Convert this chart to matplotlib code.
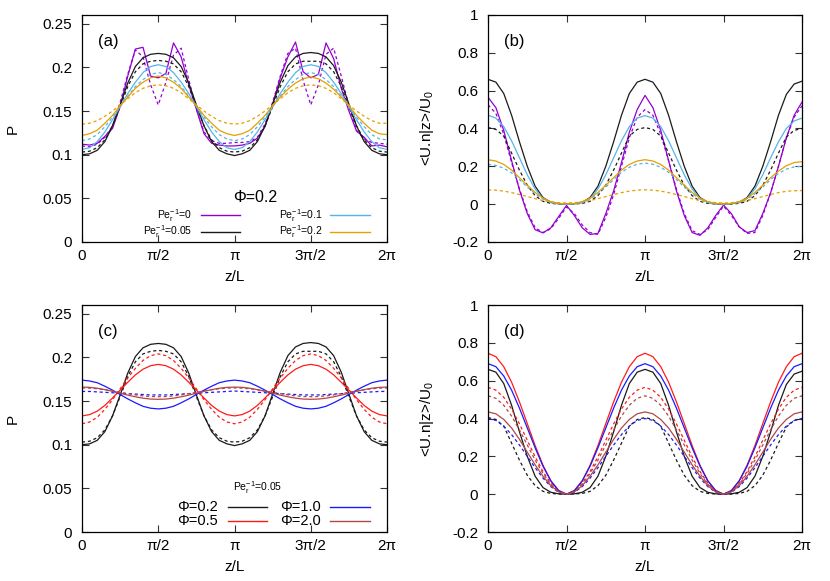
import numpy as np
import matplotlib
matplotlib.use('Agg')
import matplotlib.pyplot as plt

plt.rcParams['font.family'] = ['Liberation Sans', 'DejaVu Sans']
plt.rcParams['mathtext.fontset'] = 'custom'
plt.rcParams['mathtext.rm'] = 'Liberation Sans'
plt.rcParams['mathtext.it'] = 'Liberation Sans:italic'

# z/L sampled every pi/20
z = np.linspace(0, 2*np.pi, 41)

# ---- panel (a): P(z), Phi=0.2, several Pe_r^-1 (solid / dashed)
a_pe0 = [0.112, 0.111, 0.113, 0.121, 0.130, 0.155, 0.190, 0.221, 0.223, 0.190, 0.188,
         0.193, 0.228, 0.212, 0.180, 0.152, 0.124, 0.113, 0.111, 0.110, 0.110,
         0.111, 0.113, 0.119, 0.132, 0.158, 0.188, 0.212, 0.229, 0.195, 0.188,
         0.192, 0.228, 0.210, 0.176, 0.150, 0.127, 0.120, 0.110, 0.111, 0.109]
a_pe0_d = [0.110, 0.109, 0.112, 0.120, 0.133, 0.160, 0.192, 0.220, 0.212, 0.180, 0.157,
           0.183, 0.214, 0.222, 0.186, 0.152, 0.126, 0.116, 0.113, 0.113, 0.114,
           0.114, 0.115, 0.120, 0.135, 0.160, 0.190, 0.216, 0.222, 0.185, 0.157,
           0.180, 0.215, 0.222, 0.190, 0.156, 0.128, 0.118, 0.114, 0.113, 0.112]
a_pe005 = [0.100, 0.101, 0.105, 0.115, 0.133, 0.157, 0.182, 0.201, 0.211, 0.215, 0.216,
           0.215, 0.211, 0.201, 0.182, 0.157, 0.133, 0.115, 0.105, 0.101, 0.099,
           0.101, 0.105, 0.115, 0.133, 0.158, 0.183, 0.202, 0.212, 0.216, 0.217,
           0.216, 0.212, 0.202, 0.183, 0.158, 0.133, 0.115, 0.105, 0.101, 0.100]
a_pe005_d = [0.103, 0.104, 0.108, 0.117, 0.133, 0.155, 0.178, 0.195, 0.204, 0.207, 0.208,
             0.207, 0.204, 0.195, 0.178, 0.155, 0.133, 0.117, 0.108, 0.104, 0.103,
             0.104, 0.108, 0.117, 0.133, 0.155, 0.178, 0.195, 0.204, 0.207, 0.207,
             0.207, 0.204, 0.195, 0.178, 0.155, 0.133, 0.117, 0.108, 0.104, 0.103]
a_pe01 = [0.106, 0.108, 0.115, 0.126, 0.140, 0.155, 0.170, 0.183, 0.194, 0.201, 0.203,
          0.201, 0.194, 0.183, 0.170, 0.155, 0.140, 0.126, 0.115, 0.108, 0.106,
          0.108, 0.115, 0.126, 0.140, 0.155, 0.170, 0.183, 0.194, 0.201, 0.203,
          0.201, 0.194, 0.183, 0.170, 0.155, 0.140, 0.126, 0.115, 0.108, 0.106]
a_pe01_d = [0.116, 0.118, 0.123, 0.132, 0.143, 0.155, 0.167, 0.178, 0.186, 0.192, 0.194,
            0.192, 0.186, 0.178, 0.167, 0.155, 0.143, 0.132, 0.123, 0.118, 0.116,
            0.118, 0.123, 0.132, 0.143, 0.155, 0.167, 0.178, 0.186, 0.192, 0.194,
            0.192, 0.186, 0.178, 0.167, 0.155, 0.143, 0.132, 0.123, 0.118, 0.117]
a_pe02 = [0.122, 0.124, 0.128, 0.136, 0.145, 0.156, 0.166, 0.176, 0.183, 0.188, 0.190,
          0.188, 0.183, 0.176, 0.166, 0.156, 0.145, 0.136, 0.128, 0.124, 0.122,
          0.124, 0.128, 0.136, 0.145, 0.156, 0.166, 0.175, 0.182, 0.187, 0.189,
          0.187, 0.182, 0.175, 0.166, 0.156, 0.145, 0.136, 0.128, 0.124, 0.123]
a_pe02_d = [0.135, 0.136, 0.139, 0.144, 0.150, 0.157, 0.164, 0.171, 0.176, 0.179, 0.180,
            0.179, 0.176, 0.171, 0.164, 0.157, 0.150, 0.144, 0.139, 0.136, 0.135,
            0.136, 0.139, 0.144, 0.150, 0.157, 0.164, 0.171, 0.176, 0.179, 0.180,
            0.179, 0.176, 0.171, 0.164, 0.157, 0.150, 0.144, 0.139, 0.136, 0.136]

# ---- panel (b): <U.n|z>/U0, Phi=0.2
b_pe0 = [0.565, 0.51, 0.39, 0.23, 0.075, -0.05, -0.135, -0.152, -0.125, -0.065, -0.007,
         -0.06, -0.125, -0.16, -0.155, -0.05, 0.07, 0.22, 0.38, 0.50, 0.575,
         0.51, 0.39, 0.23, 0.07, -0.06, -0.15, -0.165, -0.125, -0.06, -0.005,
         -0.05, -0.12, -0.15, -0.14, -0.05, 0.06, 0.20, 0.35, 0.47, 0.54]
b_pe0_d = [0.525, 0.48, 0.37, 0.22, 0.08, -0.04, -0.125, -0.15, -0.13, -0.075, -0.015,
           -0.05, -0.11, -0.15, -0.16, -0.07, 0.05, 0.20, 0.35, 0.46, 0.50,
           0.47, 0.37, 0.23, 0.08, -0.05, -0.14, -0.16, -0.135, -0.07, -0.01,
           -0.06, -0.12, -0.155, -0.15, -0.06, 0.06, 0.20, 0.35, 0.46, 0.52]
b_pe005 = [0.66, 0.645, 0.585, 0.47, 0.33, 0.20, 0.095, 0.035, 0.01, 0.002, 0.0,
           0.002, 0.01, 0.035, 0.095, 0.20, 0.33, 0.47, 0.585, 0.645, 0.66,
           0.645, 0.585, 0.47, 0.33, 0.20, 0.095, 0.035, 0.01, 0.002, 0.0,
           0.002, 0.01, 0.035, 0.095, 0.20, 0.33, 0.47, 0.58, 0.635, 0.65]
b_pe005_d = [0.405, 0.395, 0.36, 0.27, 0.18, 0.10, 0.045, 0.015, 0.004, 0.001, 0.0,
             0.001, 0.004, 0.015, 0.045, 0.10, 0.18, 0.27, 0.36, 0.395, 0.405,
             0.395, 0.36, 0.27, 0.18, 0.10, 0.045, 0.015, 0.004, 0.001, 0.0,
             0.001, 0.004, 0.015, 0.045, 0.10, 0.18, 0.27, 0.355, 0.39, 0.40]
b_pe01 = [0.47, 0.455, 0.41, 0.335, 0.245, 0.155, 0.08, 0.03, 0.008, 0.002, 0.0,
          0.002, 0.008, 0.03, 0.08, 0.155, 0.245, 0.335, 0.41, 0.455, 0.468,
          0.455, 0.41, 0.335, 0.245, 0.155, 0.08, 0.03, 0.008, 0.002, 0.0,
          0.002, 0.008, 0.03, 0.08, 0.155, 0.245, 0.33, 0.40, 0.44, 0.455]
b_pe01_d = [0.21, 0.205, 0.19, 0.165, 0.13, 0.09, 0.055, 0.027, 0.01, 0.003, 0.0,
            0.003, 0.01, 0.027, 0.055, 0.09, 0.13, 0.168, 0.195, 0.211, 0.217,
            0.211, 0.195, 0.168, 0.13, 0.09, 0.055, 0.027, 0.01, 0.003, 0.0,
            0.003, 0.01, 0.027, 0.055, 0.09, 0.13, 0.162, 0.185, 0.197, 0.20]
b_pe02 = [0.235, 0.228, 0.21, 0.18, 0.14, 0.10, 0.062, 0.032, 0.013, 0.004, 0.001,
          0.004, 0.013, 0.032, 0.062, 0.10, 0.14, 0.18, 0.21, 0.228, 0.235,
          0.228, 0.21, 0.18, 0.14, 0.10, 0.062, 0.032, 0.013, 0.004, 0.001,
          0.004, 0.013, 0.032, 0.062, 0.10, 0.14, 0.175, 0.203, 0.22, 0.225]
b_pe02_d = [0.075, 0.074, 0.069, 0.061, 0.051, 0.04, 0.029, 0.019, 0.012, 0.008, 0.006,
            0.008, 0.012, 0.019, 0.029, 0.04, 0.051, 0.061, 0.069, 0.074, 0.076,
            0.074, 0.069, 0.061, 0.051, 0.04, 0.029, 0.019, 0.012, 0.008, 0.006,
            0.008, 0.012, 0.019, 0.029, 0.04, 0.051, 0.061, 0.068, 0.071, 0.072]

# ---- panel (c): P(z), Pe_r^-1=0.05, several Phi (Phi=0.2 is a_pe005)
c_phi05 = [0.133, 0.1345, 0.1385, 0.145, 0.1535, 0.1625, 0.1715, 0.180, 0.1865, 0.1905, 0.192,
           0.1905, 0.1865, 0.180, 0.1715, 0.1625, 0.1535, 0.145, 0.1385, 0.1345, 0.133,
           0.1345, 0.1385, 0.145, 0.1535, 0.1625, 0.1715, 0.180, 0.1865, 0.1905, 0.192,
           0.1905, 0.1865, 0.180, 0.1715, 0.1625, 0.1535, 0.145, 0.1385, 0.1345, 0.133]
c_phi05_d = [0.124, 0.126, 0.1315, 0.1405, 0.1515, 0.164, 0.1765, 0.1875, 0.1965, 0.202, 0.204,
             0.202, 0.1965, 0.1875, 0.1765, 0.164, 0.1515, 0.1405, 0.1315, 0.126, 0.124,
             0.126, 0.1315, 0.1405, 0.1515, 0.164, 0.1765, 0.1875, 0.1965, 0.202, 0.204,
             0.202, 0.1965, 0.1875, 0.1765, 0.164, 0.1515, 0.1405, 0.1315, 0.126, 0.124]
c_phi10 = [0.174, 0.173, 0.171, 0.167, 0.1625, 0.1575, 0.1525, 0.148, 0.144, 0.1418, 0.141,
           0.1418, 0.144, 0.148, 0.1525, 0.1575, 0.1625, 0.167, 0.171, 0.173, 0.174,
           0.173, 0.171, 0.167, 0.1625, 0.1575, 0.1525, 0.148, 0.144, 0.1418, 0.141,
           0.1418, 0.144, 0.148, 0.1525, 0.1575, 0.1625, 0.167, 0.171, 0.173, 0.174]
c_phi10_d = [0.161, 0.161, 0.1605, 0.160, 0.1595, 0.159, 0.1585, 0.158, 0.1575, 0.157, 0.157,
             0.157, 0.1575, 0.158, 0.1585, 0.159, 0.1595, 0.160, 0.1605, 0.161, 0.1615,
             0.161, 0.1605, 0.160, 0.1595, 0.159, 0.1585, 0.158, 0.1575, 0.157, 0.157,
             0.157, 0.1575, 0.158, 0.1585, 0.159, 0.1595, 0.160, 0.1605, 0.161, 0.161]
c_phi20 = [0.166, 0.1657, 0.1647, 0.1631, 0.1612, 0.159, 0.1568, 0.1549, 0.1533, 0.1523, 0.152,
           0.1523, 0.1533, 0.1549, 0.1568, 0.159, 0.1612, 0.1631, 0.1647, 0.1657, 0.166,
           0.1657, 0.1647, 0.1631, 0.1612, 0.159, 0.1568, 0.1549, 0.1533, 0.1523, 0.152,
           0.1523, 0.1533, 0.1549, 0.1568, 0.159, 0.1612, 0.1631, 0.1647, 0.1657, 0.166]
c_phi20_d = [0.165, 0.1648, 0.1641, 0.1629, 0.1615, 0.160, 0.1585, 0.1571, 0.1559, 0.1552, 0.155,
             0.1552, 0.1559, 0.1571, 0.1585, 0.160, 0.1615, 0.1629, 0.1641, 0.1648, 0.165,
             0.1648, 0.1641, 0.1629, 0.1615, 0.160, 0.1585, 0.1571, 0.1559, 0.1552, 0.155,
             0.1552, 0.1559, 0.1571, 0.1585, 0.160, 0.1615, 0.1629, 0.1641, 0.1648, 0.165]

# ---- panel (d): <U.n|z>/U0, Pe_r^-1=0.05 (Phi=0.2 is b_pe005)
d_phi05 = [0.745, 0.727, 0.674, 0.592, 0.488, 0.373, 0.257, 0.153, 0.071, 0.02, 0.0,
           0.02, 0.071, 0.153, 0.257, 0.373, 0.488, 0.592, 0.674, 0.727, 0.745,
           0.727, 0.674, 0.592, 0.488, 0.373, 0.257, 0.153, 0.071, 0.02, 0.0,
           0.02, 0.071, 0.153, 0.257, 0.373, 0.488, 0.592, 0.674, 0.727, 0.745]
d_phi05_d = [0.565, 0.55, 0.512, 0.45, 0.372, 0.285, 0.198, 0.12, 0.057, 0.015, 0.0,
             0.015, 0.057, 0.12, 0.198, 0.285, 0.372, 0.45, 0.512, 0.55, 0.565,
             0.55, 0.512, 0.45, 0.372, 0.285, 0.198, 0.12, 0.057, 0.015, 0.0,
             0.015, 0.057, 0.12, 0.198, 0.285, 0.372, 0.45, 0.512, 0.55, 0.565]
d_phi10 = [0.69, 0.674, 0.625, 0.55, 0.455, 0.35, 0.245, 0.148, 0.07, 0.018, 0.0,
           0.018, 0.07, 0.148, 0.245, 0.35, 0.455, 0.55, 0.625, 0.674, 0.69,
           0.674, 0.625, 0.55, 0.455, 0.35, 0.245, 0.148, 0.07, 0.018, 0.0,
           0.018, 0.07, 0.148, 0.245, 0.35, 0.455, 0.55, 0.625, 0.674, 0.69]
d_phi10_d = [0.40, 0.39, 0.36, 0.315, 0.26, 0.20, 0.14, 0.085, 0.04, 0.01, 0.0,
             0.01, 0.04, 0.085, 0.14, 0.20, 0.26, 0.315, 0.36, 0.39, 0.40,
             0.39, 0.36, 0.315, 0.26, 0.20, 0.14, 0.085, 0.04, 0.01, 0.0,
             0.01, 0.04, 0.085, 0.14, 0.20, 0.26, 0.315, 0.36, 0.39, 0.40]
d_phi20 = [0.435, 0.425, 0.395, 0.35, 0.29, 0.222, 0.155, 0.095, 0.045, 0.012, 0.0,
           0.012, 0.045, 0.095, 0.155, 0.222, 0.29, 0.35, 0.395, 0.425, 0.435,
           0.425, 0.395, 0.35, 0.29, 0.222, 0.155, 0.095, 0.045, 0.012, 0.0,
           0.012, 0.045, 0.095, 0.155, 0.222, 0.29, 0.35, 0.395, 0.425, 0.435]
d_phi20_d = [0.52, 0.507, 0.47, 0.413, 0.34, 0.26, 0.18, 0.11, 0.052, 0.014, 0.0,
             0.014, 0.052, 0.11, 0.18, 0.26, 0.34, 0.413, 0.47, 0.507, 0.52,
             0.507, 0.47, 0.413, 0.34, 0.26, 0.18, 0.11, 0.052, 0.014, 0.0,
             0.014, 0.052, 0.11, 0.18, 0.26, 0.34, 0.413, 0.47, 0.507, 0.52]

pe_labels = ['0', '0.05', '0.1', '0.2']
phi_labels = ['0.2', '0.5', '1.0', '2.0']

purple = '#9400d3'
cyan = '#56b4e9'
orange = '#e69f00'
black = '#1a1a1a'
red = '#ff1a1a'
blue = '#1a1aff'
brown = '#b04848'
dash = (0, (2.5, 2.2))
lw = 0.9

fig = plt.figure(figsize=(8.3, 5.81), dpi=100)
axa = fig.add_axes([0.0988, 0.5835, 0.3675, 0.3907])
axb = fig.add_axes([0.588, 0.5835, 0.3783, 0.3907])
axc = fig.add_axes([0.0988, 0.0843, 0.3675, 0.3907])
axd = fig.add_axes([0.588, 0.0843, 0.3783, 0.3907])


def style(ax, ylim, yticks, ylab, ylab_x, tag):
    ax.set_xlim(0, 2*np.pi)
    ax.set_ylim(*ylim)
    ax.set_xticks([0, np.pi/2, np.pi, 3*np.pi/2, 2*np.pi])
    ax.set_xticklabels(['0', 'π/2', 'π', '3π/2', '2π'])
    ax.set_yticks(yticks)
    ax.set_yticklabels(['%g' % v for v in yticks])
    ax.tick_params(direction='in', top=True, right=True, length=5, width=0.8,
                   labelsize=11, color='#333333')
    ax.tick_params(axis='y', pad=7)
    ax.tick_params(axis='x', pad=5)
    for s in ax.spines.values():
        s.set_linewidth(0.9)
    ax.set_xlabel('z/L', fontsize=11)
    ax.xaxis.set_label_coords(0.5, -0.125)
    ax.set_ylabel(ylab, fontsize=11)
    ax.yaxis.set_label_coords(ylab_x, 0.5)
    ax.text(0.085, 0.885, tag, transform=ax.transAxes, fontsize=12,
            ha='center', va='center')


def key(ax, xt, x0, x1, y, label, color, fs):
    ax.text(xt, y, label, transform=ax.transAxes, ha='right', va='center', fontsize=fs)
    ax.plot([x0, x1], [y, y], transform=ax.transAxes, color=color, lw=1.0)


# (a)
for s, d, c in [(a_pe0, a_pe0_d, purple), (a_pe005, a_pe005_d, black),
                (a_pe01, a_pe01_d, cyan), (a_pe02, a_pe02_d, orange)]:
    axa.plot(z, s, color=c, lw=lw)
    axa.plot(z, d, color=c, lw=lw, ls=dash)
style(axa, (0, 0.26), [0, 0.05, 0.1, 0.15, 0.2, 0.25], 'P', -0.205, '(a)')
axa.text(0.567, 0.198, 'Φ=0.2', transform=axa.transAxes, ha='center', va='center', fontsize=11.5)
pe = [r'Pe$_\mathrm{r}^{\mathrm{-1}}$=' + p for p in pe_labels]
key(axa, 0.361, 0.39, 0.518, 0.118, pe[0], purple, 7.5)
key(axa, 0.361, 0.39, 0.518, 0.046, pe[1], black, 7.5)
key(axa, 0.787, 0.813, 0.944, 0.118, pe[2], cyan, 7.5)
key(axa, 0.787, 0.813, 0.944, 0.046, pe[3], orange, 7.5)

# (b)
for s, d, c in [(b_pe0, b_pe0_d, purple), (b_pe005, b_pe005_d, black),
                (b_pe01, b_pe01_d, cyan), (b_pe02, b_pe02_d, orange)]:
    axb.plot(z, s, color=c, lw=lw)
    axb.plot(z, d, color=c, lw=lw, ls=dash)
style(axb, (-0.2, 1.0), [-0.2, 0, 0.2, 0.4, 0.6, 0.8, 1.0],
      r'<U.n|z>/U$_\mathrm{0}$', -0.165, '(b)')

# (c)
for s, d, c in [(a_pe005, a_pe005_d, black), (c_phi05, c_phi05_d, red),
                (c_phi10, c_phi10_d, blue), (c_phi20, c_phi20_d, brown)]:
    axc.plot(z, s, color=c, lw=lw)
    axc.plot(z, d, color=c, lw=lw, ls=dash)
style(axc, (0, 0.26), [0, 0.05, 0.1, 0.15, 0.2, 0.25], 'P', -0.205, '(c)')
axc.text(0.577, 0.197, r'Pe$_\mathrm{r}^{\mathrm{-1}}$=0.05', transform=axc.transAxes,
         ha='center', va='center', fontsize=7.5)
phi = ['Φ=' + p for p in phi_labels]
key(axc, 0.446, 0.479, 0.607, 0.112, phi[0], black, 10.5)
key(axc, 0.446, 0.479, 0.607, 0.047, phi[1], red, 10.5)
key(axc, 0.784, 0.813, 0.944, 0.112, phi[2], blue, 10.5)
key(axc, 0.784, 0.813, 0.944, 0.047, phi[3], brown, 10.5)

# (d)
for s, d, c in [(b_pe005, b_pe005_d, black), (d_phi05, d_phi05_d, red),
                (d_phi10, d_phi10_d, blue), (d_phi20, d_phi20_d, brown)]:
    axd.plot(z, s, color=c, lw=lw)
    axd.plot(z, d, color=c, lw=lw, ls=dash)
style(axd, (-0.2, 1.0), [-0.2, 0, 0.2, 0.4, 0.6, 0.8, 1.0],
      r'<U.n|z>/U$_\mathrm{0}$', -0.165, '(d)')

fig.savefig('out.png', dpi=100)
